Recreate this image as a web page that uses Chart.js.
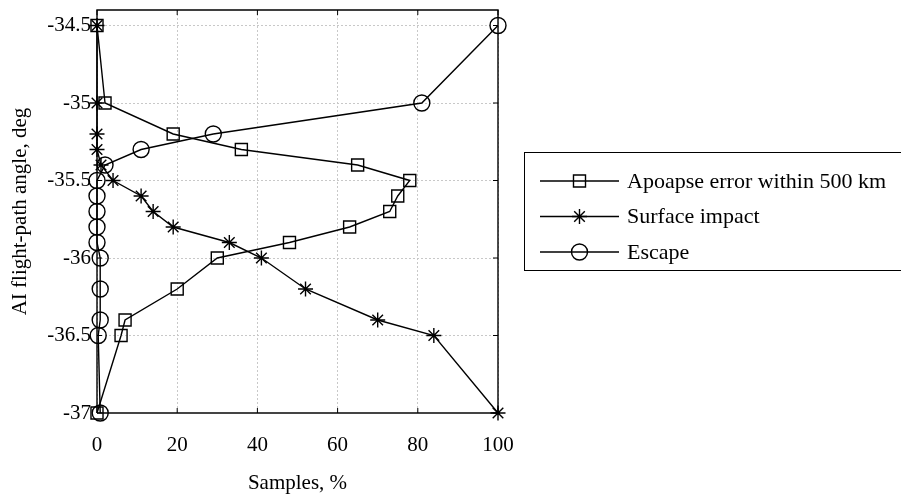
<!DOCTYPE html>
<html>
<head>
<meta charset="utf-8">
<title>AI flight-path angle</title>
<script src="https://cdn.jsdelivr.net/npm/chart.js@4/dist/chart.umd.min.js"></script>
<style>
  html, body { margin: 0; padding: 0; background: #fff; }
  #plot { display: block; }
</style>
</head>
<body>
<canvas id="plot" width="901" height="496"></canvas>
<script>
'use strict';

// flight-path angles that were tested (deg)
var angles = [-37, -36.5, -36.4, -36.2, -36, -35.9, -35.8, -35.7, -35.6, -35.5, -35.4, -35.3, -35.2, -35, -34.5];

// share of samples (%) for each outcome at each angle
var apoapsePct = [0, 6, 7, 20, 30, 48, 63, 73, 75, 78, 65, 36, 19, 2, 0];
var impactPct = [100, 84, 70, 52, 41, 33, 19, 14, 11, 4, 1, 0, 0, 0, 0];
var escapePct = [0.8, 0.3, 0.8, 0.8, 0.8, 0, 0, 0, 0, 0, 2, 11, 29, 81, 100];

var seriesNames = ['Apoapse error within 500 km', 'Surface impact', 'Escape'];
var xTicks = [0, 20, 40, 60, 80, 100];
var yTicks = [-37, -36.5, -36, -35.5, -35, -34.5];

var FONT = 'Liberation Serif';
var FONT_SIZE = 21;
var LINE_W = 1.4;

function toPoints(xs) {
  var pts = [];
  for (var i = 0; i < angles.length; i++) {
    pts.push({x: xs[i], y: angles[i]});
  }
  return pts;
}

function makeSet(label, xs, style, radius) {
  return {
    label: label,
    data: toPoints(xs),
    showLine: true,
    borderColor: '#000',
    borderWidth: LINE_W,
    pointStyle: style,
    pointRadius: radius,
    pointHoverRadius: radius,
    pointBorderColor: '#000',
    pointBorderWidth: LINE_W,
    pointBackgroundColor: 'rgba(0,0,0,0)',
    clip: false,
    tension: 0
  };
}

// markers for the legend, same shapes chart.js uses
function drawMarker(ctx, style, x, y, r) {
  ctx.beginPath();
  if (style === 'rect') {
    var s = r * Math.SQRT1_2;
    ctx.rect(x - s, y - s, 2 * s, 2 * s);
  } else if (style === 'circle') {
    ctx.arc(x, y, r, 0, Math.PI * 2);
  } else if (style === 'star') {
    ctx.moveTo(x, y - r); ctx.lineTo(x, y + r);
    ctx.moveTo(x - r, y); ctx.lineTo(x + r, y);
    var d = r * Math.SQRT1_2;
    ctx.moveTo(x - d, y - d); ctx.lineTo(x + d, y + d);
    ctx.moveTo(x - d, y + d); ctx.lineTo(x + d, y - d);
  }
  ctx.stroke();
}

// box round the axes, inward ticks, and the legend panel
var framePlugin = {
  id: 'frame',
  beforeDatasetsDraw: function(chart) {
    var ctx = chart.ctx;
    var a = chart.chartArea;
    var xs = chart.scales.x;
    var ys = chart.scales.y;
    ctx.save();
    ctx.strokeStyle = '#000';
    ctx.lineWidth = 1.4;
    ctx.beginPath();
    ctx.moveTo(a.left, a.bottom); ctx.lineTo(a.left, a.top);
    ctx.lineTo(a.right, a.top); ctx.lineTo(a.right, a.bottom);
    ctx.stroke();
    ctx.strokeStyle = '#444';
    ctx.lineWidth = 2;
    ctx.beginPath();
    ctx.moveTo(a.left, a.bottom); ctx.lineTo(a.right, a.bottom);
    ctx.stroke();

    ctx.strokeStyle = '#000';
    ctx.lineWidth = 1;
    ctx.beginPath();
    xTicks.forEach(function(v) {
      var px = xs.getPixelForValue(v);
      ctx.moveTo(px, a.bottom); ctx.lineTo(px, a.bottom - 5);
      ctx.moveTo(px, a.top); ctx.lineTo(px, a.top + 5);
    });
    yTicks.forEach(function(v) {
      var py = ys.getPixelForValue(v);
      ctx.moveTo(a.left, py); ctx.lineTo(a.left + 5, py);
      ctx.moveTo(a.right, py); ctx.lineTo(a.right - 5, py);
    });
    ctx.stroke();
    ctx.restore();
  },
  afterDraw: function(chart) {
    var ctx = chart.ctx;
    var sets = chart.data.datasets;
    var boxX = 524.5, boxY = 152.5, boxW = 420, boxH = 118;
    ctx.save();
    ctx.fillStyle = '#fff';
    ctx.fillRect(boxX, boxY, boxW, boxH);
    ctx.strokeStyle = '#000';
    ctx.lineWidth = 1;
    ctx.strokeRect(boxX, boxY, boxW, boxH);

    ctx.font = '22px "' + FONT + '"';
    ctx.textBaseline = 'middle';
    ctx.textAlign = 'left';
    ctx.fillStyle = '#000';
    for (var i = 0; i < sets.length; i++) {
      var rowY = 181 + i * 35.5;
      ctx.lineWidth = LINE_W;
      ctx.beginPath();
      ctx.moveTo(540, rowY); ctx.lineTo(619, rowY);
      ctx.stroke();
      drawMarker(ctx, sets[i].pointStyle, 579.5, rowY, sets[i].pointRadius);
      ctx.fillText(sets[i].label, 627, rowY + 1);
    }
    ctx.restore();
  }
};

var tickFont = {family: FONT, size: FONT_SIZE};

var ctx = document.getElementById('plot').getContext('2d');
var chart = new Chart(ctx, {
  type: 'scatter',
  data: {
    datasets: [
      makeSet(seriesNames[0], apoapsePct, 'rect', 8.5),
      makeSet(seriesNames[1], impactPct, 'star', 7.5),
      makeSet(seriesNames[2], escapePct, 'circle', 8)
    ]
  },
  options: {
    responsive: false,
    animation: false,
    events: [],
    layout: {padding: {left: 0, right: 403, top: 10, bottom: 0}},
    plugins: {
      legend: {display: false},
      tooltip: {enabled: false}
    },
    scales: {
      x: {
        type: 'linear',
        min: 0,
        max: 100,
        afterFit: function(scale) {
          scale.height = 83;
          scale.paddingLeft = 0;
          scale.paddingRight = 0;
        },
        ticks: {stepSize: 20, color: '#000', font: tickFont, padding: 20, maxRotation: 0},
        grid: {color: '#c8c8c8', lineWidth: 1, drawTicks: false},
        border: {display: false, dash: [2, 2]},
        title: {display: true, text: 'Samples, %', color: '#000', font: tickFont, padding: {top: 0, bottom: 0}}
      },
      y: {
        type: 'linear',
        min: -37,
        max: -34.4,
        afterFit: function(scale) {
          scale.width = 97;
          scale.paddingTop = 0;
          scale.paddingBottom = 0;
        },
        ticks: {
          stepSize: 0.5,
          includeBounds: false,
          color: '#000',
          font: tickFont,
          padding: 6,
          callback: function(v) { return String(Math.round(v * 10) / 10); }
        },
        grid: {color: '#c8c8c8', lineWidth: 1, drawTicks: false},
        border: {display: false, dash: [2, 2]},
        title: {display: true, text: 'AI flight-path angle, deg', color: '#000', font: tickFont, padding: {top: 8, bottom: 0}}
      }
    }
  },
  plugins: [framePlugin]
});
</script>
</body>
</html>
